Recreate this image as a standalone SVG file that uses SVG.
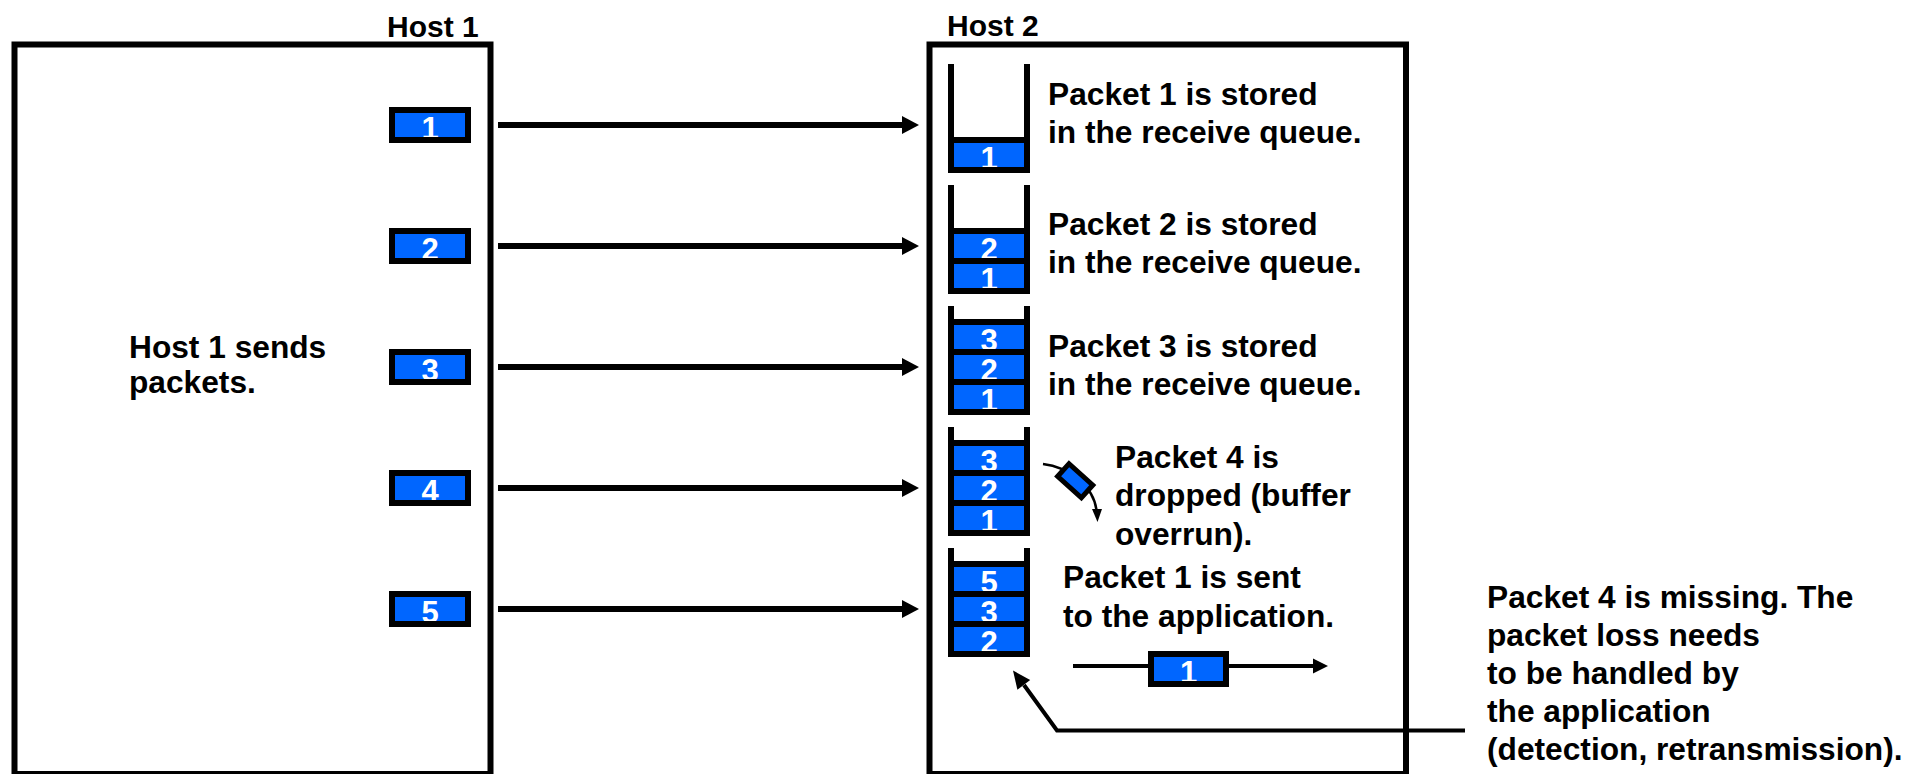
<svg xmlns="http://www.w3.org/2000/svg" width="1908" height="774" viewBox="0 0 1908 774">
  <style>
    .frame { fill: none; stroke: #000; stroke-width: 6; }
    .pkfill { fill: #0066ff; }
    .pkedge { fill: none; stroke: #000; stroke-width: 6; }
    .num { font-family: "Liberation Sans", Arial, sans-serif; font-weight: bold; font-size: 31px; fill: #fff; text-anchor: middle; }
    .head { font-family: "Liberation Sans", Arial, sans-serif; font-weight: bold; font-size: 30px; fill: #000; }
    .lbl { font-family: "Liberation Sans", Arial, sans-serif; font-weight: bold; font-size: 31.7px; fill: #000; }
    .wire { fill: none; stroke: #000; stroke-width: 6; }
    .thin { fill: none; stroke: #000; stroke-width: 4; }
    .tip { fill: #000; }
  </style>
  <rect width="1908" height="774" fill="#fff"/>

  <!-- Host 1 -->
  <g id="host1">
    <rect class="frame" x="14.5" y="44.5" width="476" height="729.5"/>
    <text class="head" x="387" y="37">Host 1</text>
    <text class="lbl" x="129" y="358">Host 1 sends</text>
    <text class="lbl" x="129" y="393">packets.</text>
  </g>

  <!-- Host 2 -->
  <g id="host2">
    <rect class="frame" x="929.5" y="44.5" width="476.5" height="729.5"/>
    <text class="head" x="947" y="36">Host 2</text>
  </g>

  <!-- packets leaving host 1 -->
  <g id="sent-packets">
    <g id="pkt1"><rect class="pkfill" x="392" y="110" width="76" height="30"/><text class="num" x="430" y="139">1</text><rect class="pkedge" x="392" y="110" width="76" height="30"/></g>
    <g id="pkt2"><rect class="pkfill" x="392" y="231" width="76" height="30"/><text class="num" x="430" y="260">2</text><rect class="pkedge" x="392" y="231" width="76" height="30"/></g>
    <g id="pkt3"><rect class="pkfill" x="392" y="352" width="76" height="30"/><text class="num" x="430" y="381">3</text><rect class="pkedge" x="392" y="352" width="76" height="30"/></g>
    <g id="pkt4"><rect class="pkfill" x="392" y="473" width="76" height="30"/><text class="num" x="430" y="502">4</text><rect class="pkedge" x="392" y="473" width="76" height="30"/></g>
    <g id="pkt5"><rect class="pkfill" x="392" y="594" width="76" height="30"/><text class="num" x="430" y="623">5</text><rect class="pkedge" x="392" y="594" width="76" height="30"/></g>
  </g>

  <!-- receive queue snapshots -->
  <g id="queue1">
    <rect class="pkfill" x="951" y="140" width="76" height="30"/>
    <text class="num" x="989" y="169">1</text>
    <rect class="pkedge" x="951" y="140" width="76" height="30"/>
    <path class="frame" d="M951,64 V170 H1027 V64"/>
  </g>
  <g id="queue2">
    <rect class="pkfill" x="951" y="231" width="76" height="60"/>
    <text class="num" x="989" y="260">2</text>
    <text class="num" x="989" y="290">1</text>
    <rect class="pkedge" x="951" y="231" width="76" height="30"/>
    <rect class="pkedge" x="951" y="261" width="76" height="30"/>
    <path class="frame" d="M951,185 V291 H1027 V185"/>
  </g>
  <g id="queue3">
    <rect class="pkfill" x="951" y="322" width="76" height="90"/>
    <text class="num" x="989" y="351">3</text>
    <text class="num" x="989" y="381">2</text>
    <text class="num" x="989" y="411">1</text>
    <rect class="pkedge" x="951" y="322" width="76" height="30"/>
    <rect class="pkedge" x="951" y="352" width="76" height="30"/>
    <rect class="pkedge" x="951" y="382" width="76" height="30"/>
    <path class="frame" d="M951,306 V412 H1027 V306"/>
  </g>
  <g id="queue4">
    <rect class="pkfill" x="951" y="443" width="76" height="90"/>
    <text class="num" x="989" y="472">3</text>
    <text class="num" x="989" y="502">2</text>
    <text class="num" x="989" y="532">1</text>
    <rect class="pkedge" x="951" y="443" width="76" height="30"/>
    <rect class="pkedge" x="951" y="473" width="76" height="30"/>
    <rect class="pkedge" x="951" y="503" width="76" height="30"/>
    <path class="frame" d="M951,427 V533 H1027 V427"/>
  </g>
  <g id="queue5">
    <rect class="pkfill" x="951" y="564" width="76" height="90"/>
    <text class="num" x="989" y="593">5</text>
    <text class="num" x="989" y="623">3</text>
    <text class="num" x="989" y="653">2</text>
    <rect class="pkedge" x="951" y="564" width="76" height="30"/>
    <rect class="pkedge" x="951" y="594" width="76" height="30"/>
    <rect class="pkedge" x="951" y="624" width="76" height="30"/>
    <path class="frame" d="M951,548 V654 H1027 V548"/>
  </g>

  <!-- connectors -->
  <g id="connectors">
    <line class="wire" x1="498" y1="125" x2="903" y2="125"/>
    <polygon class="tip" points="902,116 919,125 902,134"/>
    <line class="wire" x1="498" y1="246" x2="903" y2="246"/>
    <polygon class="tip" points="902,237 919,246 902,255"/>
    <line class="wire" x1="498" y1="367" x2="903" y2="367"/>
    <polygon class="tip" points="902,358 919,367 902,376"/>
    <line class="wire" x1="498" y1="488" x2="903" y2="488"/>
    <polygon class="tip" points="902,479 919,488 902,497"/>
    <line class="wire" x1="498" y1="609" x2="903" y2="609"/>
    <polygon class="tip" points="902,600 919,609 902,618"/>

    <!-- dropped packet falling away -->
    <path fill="none" stroke="#000" stroke-width="2.5" d="M1043,464 C1068,467 1093,485 1096.5,510"/>
    <polygon class="tip" points="1092,509 1102,509 1097.5,522"/>

    <!-- delivery to the application -->
    <line class="thin" x1="1073" y1="666" x2="1314" y2="666"/>
    <polygon class="tip" points="1313,658.5 1328,666 1313,673.5"/>

    <!-- callout from the note to the queue -->
    <polyline class="thin" points="1465,730.5 1057,730.5 1024,685"/>
    <polygon class="tip" points="1013,670.5 1030.2,680.1 1017.4,689.7"/>
  </g>

  <g id="dropped-packet" transform="translate(1075.2,480.8) rotate(42)">
    <rect x="-16" y="-8.5" width="32" height="17" fill="#0066ff" stroke="#000" stroke-width="5"/>
  </g>

  <g id="app-packet">
    <rect class="pkfill" x="1151" y="654" width="75" height="30"/>
    <text class="num" x="1188.5" y="683">1</text>
    <rect class="pkedge" x="1151" y="654" width="75" height="30"/>
  </g>

  <!-- event descriptions -->
  <g id="labels">
    <text class="lbl" x="1048" y="105">Packet 1 is stored</text>
    <text class="lbl" x="1048" y="143">in the receive queue.</text>
    <text class="lbl" x="1048" y="235">Packet 2 is stored</text>
    <text class="lbl" x="1048" y="273">in the receive queue.</text>
    <text class="lbl" x="1048" y="357">Packet 3 is stored</text>
    <text class="lbl" x="1048" y="395">in the receive queue.</text>
    <text class="lbl" x="1115" y="468">Packet 4 is</text>
    <text class="lbl" x="1115" y="506">dropped (buffer</text>
    <text class="lbl" x="1115" y="545">overrun).</text>
    <text class="lbl" x="1063" y="588">Packet 1 is sent</text>
    <text class="lbl" x="1063" y="627">to the application.</text>
    <text class="lbl" x="1487" y="608">Packet 4 is missing. The</text>
    <text class="lbl" x="1487" y="646">packet loss needs</text>
    <text class="lbl" x="1487" y="684">to be handled by</text>
    <text class="lbl" x="1487" y="722">the application</text>
    <text class="lbl" x="1487" y="760">(detection, retransmission).</text>
  </g>
</svg>
